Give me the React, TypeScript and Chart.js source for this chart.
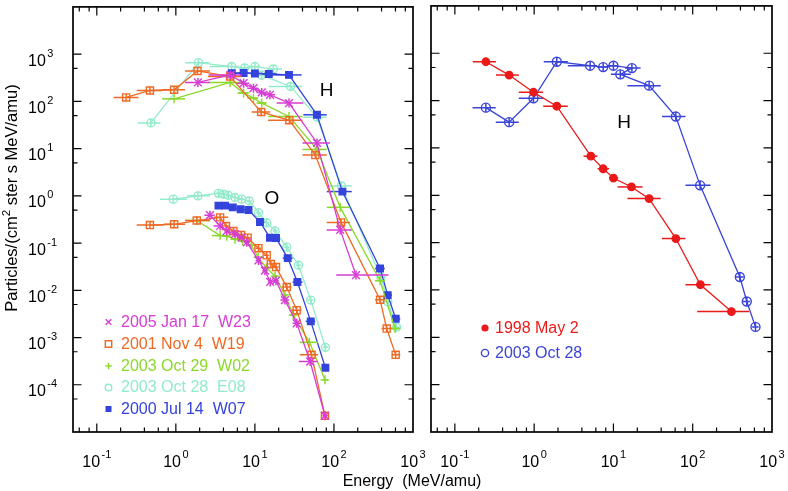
import React, { useEffect, useRef } from 'react';
import { Chart, registerables } from 'chart.js';

Chart.register(...registerables);

// ---------------- data ----------------
// Left panel, H (protons)
const jan17H_E = [1.9, 4.9, 7.2, 9.6, 12.2, 15.5, 27, 61, 120, 190];
const jan17H_F = [251, 363, 243, 190, 155, 138, 92, 13.2, 0.19, 0.021];
const jan17H_lo = [1.31, 2.6, 6.0, 8.0, 10.5, 13, 18.9, 40, 81, 107];
const jan17H_hi = [2.7, 6.8, 8.5, 11, 14, 18, 41, 89, 168, 490];

const nov4H_E = [0.235, 0.47, 0.95, 1.88, 4.86, 12.0, 27.3, 58.2, 123, 383, 465, 604];
const nov4H_F = [121, 170, 176, 440, 336, 59.6, 39.8, 7.3, 0.274, 0.0063, 0.00155, 0.00043];
const nov4H_lo = [0.163, 0.32, 0.67, 1.31, 2.56, 9.1, 14.7, 40, 81, 331, 400, 540];
const nov4H_hi = [0.336, 0.67, 1.31, 2.7, 6.8, 15.6, 40, 81, 160, 443, 540, 690];

const oct29H_E = [0.95, 4.86, 7.2, 9.6, 12.2, 27, 61, 120, 383, 592];
const oct29H_F = [113, 251, 150, 117, 92, 48, 9.6, 0.57, 0.016, 0.00155];
const oct29H_lo = [0.67, 2.6, 6.0, 8.0, 10.5, 14.7, 40, 81, 330, 540];
const oct29H_hi = [1.31, 6.8, 8.5, 11, 14, 40, 81, 160, 440, 690];

const jul14H_E = [5.1, 7.2, 10, 15, 27, 61, 128, 383, 479, 605];
const jul14H_F = [394, 400, 390, 380, 363, 52, 1.23, 0.029, 0.0079, 0.0025];
const jul14H_lo = [4.3, 6.0, 8.5, 12.5, 16, 41, 81, 330, 440, 540];
const jul14H_hi = [6.0, 8.5, 12.5, 19, 39, 81, 168, 440, 540, 690];

// 2003 Oct 28 H (both panels; left panel omits the 0.25 and 1 MeV points)
const oct28H_E = [0.246, 0.484, 0.98, 1.93, 5.08, 7.42, 10.0, 17.1, 12.2, 28.2, 61.2, 124, 393, 481, 619];
const oct28H_F = [71, 35, 112, 661, 546, 510, 546, 486, 358, 207, 46, 1.62, 0.0188, 0.0057, 0.00166];
const oct28H_lo = [0.167, 0.328, 0.64, 1.32, 2.66, 6.2, 8.5, 14, 9.3, 15, 41, 81, 350, 430, 560];
const oct28H_hi = [0.328, 0.64, 1.32, 2.66, 6.2, 8.5, 11.5, 22, 16.6, 39.5, 81, 168, 440, 530, 680];
const oct28H_leftSkip = [0, 2];

// Left panel, O (oxygen)
const oct28O_E = [0.93, 1.9, 3.46, 4.0, 4.6, 5.6, 6.8, 8.5, 11.1, 14.1, 18.0, 25.3, 35.5, 50.9, 77.9];
const oct28O_F = [0.85, 1.0, 1.13, 1.08, 1.03, 0.92, 0.85, 0.78, 0.44, 0.27, 0.18, 0.082, 0.034, 0.0062, 0.00062];
const oct28O_lo = [0.63, 1.38, 3.2, 3.75, 4.3, 5.2, 6.3, 7.9, 10.3, 13.1, 16.7, 23.5, 33, 46, 72];
const oct28O_hi = [1.38, 2.7, 3.75, 4.3, 5.0, 6.1, 7.3, 9.2, 12, 15.2, 19.4, 27.3, 38.2, 55, 84];

const jul14O_E = [3.46, 4.2, 5.25, 6.6, 8.3, 11.6, 15.5, 18.5, 26, 34.5, 50.9, 77.9];
const jul14O_F = [0.62, 0.62, 0.57, 0.52, 0.5, 0.28, 0.13, 0.128, 0.048, 0.015, 0.0022, 0.00023];
const jul14O_lo = [3.2, 3.9, 4.85, 6.1, 7.7, 10.3, 13.8, 17, 22.5, 30, 44, 72];
const jul14O_hi = [3.75, 4.55, 5.7, 7.1, 9.0, 13.2, 17.5, 20, 30, 40, 58, 84];

const nov4O_E = [0.47, 0.95, 1.84, 3.63, 4.3, 5.35, 6.7, 8.1, 11.1, 14.1, 15.9, 18.5, 25.3, 33.8, 52, 77];
const nov4O_F = [0.24, 0.25, 0.3, 0.35, 0.23, 0.18, 0.148, 0.13, 0.078, 0.055, 0.036, 0.031, 0.0117, 0.0038, 0.00043, 0.000022];
const nov4O_lo = [0.32, 0.7, 1.31, 3.0, 4.0, 5.0, 6.2, 7.5, 10.2, 13, 14.8, 17, 22, 29, 37, 72];
const nov4O_hi = [0.7, 1.31, 2.7, 4.6, 4.7, 5.8, 7.2, 8.8, 12, 15, 17, 20, 29, 39, 63, 83];

const jan17O_E = [2.7, 3.63, 4.4, 5.6, 6.8, 7.9, 11.1, 13.4, 15.6, 18.5, 24, 33.8, 50, 77];
const jan17O_F = [0.39, 0.23, 0.18, 0.155, 0.13, 0.104, 0.043, 0.026, 0.015, 0.016, 0.0062, 0.002, 0.00031, 0.000022];
const jan17O_lo = [2.3, 3.0, 4.1, 5.2, 6.3, 7.3, 10.2, 12.4, 14.6, 17, 21, 30, 36, 72];
const jan17O_hi = [3.1, 4.0, 4.8, 6.0, 7.3, 8.6, 12, 14.5, 16.7, 20, 27, 38, 62, 83];

const oct29O_E = [1.84, 3.63, 4.4, 5.6, 7.0, 9.0, 11.0, 14.0, 18.0, 24, 30.6, 49, 77];
const oct29O_F = [0.3, 0.144, 0.14, 0.12, 0.11, 0.09, 0.05, 0.03, 0.02, 0.008, 0.003, 0.00079, 0.000127];
const oct29O_lo = [1.31, 2.85, 4.1, 5.2, 6.5, 8.3, 10.2, 13, 16.7, 22, 28, 37, 72];
const oct29O_hi = [2.7, 4.6, 4.8, 6.0, 7.5, 9.7, 12, 15, 19.4, 26, 33, 63, 84];

// Right panel: 1998 May 2 H
const may2H_E = [0.246, 0.484, 0.98, 1.93, 5.19, 7.42, 10.0, 16.9, 28.2, 61.2, 125, 308];
const may2H_F = [661, 346, 150, 76, 6.7, 3.63, 2.31, 1.5, 0.85, 0.122, 0.0129, 0.0035];
const may2H_lo = [0.168, 0.33, 0.64, 1.3, 4.2, 6.3, 8.8, 11.3, 15, 41, 81, 114];
const may2H_hi = [0.33, 0.64, 1.3, 2.66, 6.3, 8.8, 11.5, 23.3, 39.5, 81, 168, 515];

// Legend labels
const leftLegendLabels = ['2005 Jan 17  W23', '2001 Nov 4  W19', '2003 Oct 29  W02', '2003 Oct 28  E08', '2000 Jul 14  W07'];
const rightLegendLabels = ['1998 May 2', '2003 Oct 28'];

// Axis
const X_MIN = 0.05;
const X_MAX = 1000;
const Y_MIN = 1e-5;
const Y_MAX = 1e4;
const X_LABEL_EXPS = [-1, 0, 1, 2, 3];
const Y_LABEL_EXPS = [3, 2, 1, 0, -1, -2, -3, -4];

// ---------------- styles ----------------
const FONT = '"Liberation Sans", Arial, Helvetica, sans-serif';
const C_MAG = '#d63cd4';
const C_ORA = '#ee6a24';
const C_GRN = '#8ad82a';
const C_CYA = '#92ebca';
const C_BLU = '#3343dc';
const C_RED = '#ea1a1a';
const C_RBLU = '#3a44d8';

type Style = { pointStyle: string; radius: number; filled: boolean; vBar: number };
const ST_MAG: Style = { pointStyle: 'crossRot', radius: 5.5, filled: false, vBar: 4.5 };
const ST_ORA: Style = { pointStyle: 'rect', radius: 5, filled: false, vBar: 3.5 };
const ST_GRN: Style = { pointStyle: 'cross', radius: 4.5, filled: false, vBar: 0 };
const ST_CYA: Style = { pointStyle: 'circle', radius: 4, filled: false, vBar: 4 };
const ST_BLU: Style = { pointStyle: 'rect', radius: 4.6, filled: true, vBar: 0 };
const ST_RED: Style = { pointStyle: 'circle', radius: 3.7, filled: true, vBar: 0 };
const ST_RBLU: Style = { pointStyle: 'circle', radius: 4.5, filled: false, vBar: 4.5 };

function series(E: number[], F: number[], lo: number[], hi: number[], color: string, st: Style): any {
  return {
    data: E.map((x, i) => ({ x, y: F[i] })),
    errLo: lo,
    errHi: hi,
    vBar: st.vBar,
    borderColor: color,
    backgroundColor: color,
    borderWidth: 1.3,
    showLine: true,
    fill: false,
    tension: 0,
    pointStyle: st.pointStyle,
    pointRadius: st.radius,
    pointHoverRadius: st.radius,
    pointBorderColor: color,
    pointBorderWidth: 1.4,
    pointBackgroundColor: st.filled ? color : 'rgba(0,0,0,0)',
  };
}

const skip = (a: number[]) => a.filter((_, i) => !oct28H_leftSkip.includes(i));

function minorTicks(mults: number[]): number[] {
  const out: number[] = [];
  for (let e = -6; e <= 4; e++) {
    for (const m of mults) {
      const v = m * Math.pow(10, e);
      if (v > X_MIN * 0.999 && v < X_MAX && mults.length > 1) out.push(v);
      if (mults.length === 1 && v > Y_MIN && v < 1e3 * 1.01) out.push(v);
    }
  }
  return out;
}
const X_MINOR = minorTicks([2, 4, 6, 8]);
const Y_MINOR = minorTicks([5]);

function drawPow(ctx: CanvasRenderingContext2D, n: number, x: number, y: number, center: boolean, color = '#000') {
  ctx.fillStyle = color;
  ctx.textAlign = 'left';
  ctx.textBaseline = 'alphabetic';
  ctx.font = `16px ${FONT}`;
  const w1 = ctx.measureText('10').width;
  ctx.font = `11px ${FONT}`;
  const ex = String(n);
  const w2 = ctx.measureText(ex).width;
  const total = w1 + 1.5 + w2;
  const x0 = center ? x - total / 2 : x;
  ctx.font = `16px ${FONT}`;
  ctx.fillText('10', x0, y);
  ctx.font = `11px ${FONT}`;
  ctx.fillText(ex, x0 + w1 + 1.5, y - 9);
}

function drawMarker(ctx: CanvasRenderingContext2D, kind: string, x: number, y: number, s: number, color: string) {
  ctx.save();
  ctx.strokeStyle = color;
  ctx.fillStyle = color;
  ctx.lineWidth = 1.4;
  ctx.beginPath();
  if (kind === 'x') {
    ctx.moveTo(x - s, y - s); ctx.lineTo(x + s, y + s);
    ctx.moveTo(x - s, y + s); ctx.lineTo(x + s, y - s);
    ctx.stroke();
  } else if (kind === 'plus') {
    ctx.moveTo(x - s, y); ctx.lineTo(x + s, y);
    ctx.moveTo(x, y - s); ctx.lineTo(x, y + s);
    ctx.stroke();
  } else if (kind === 'sq') {
    ctx.rect(x - s, y - s, 2 * s, 2 * s);
    ctx.stroke();
  } else if (kind === 'fsq') {
    ctx.rect(x - s, y - s, 2 * s, 2 * s);
    ctx.fill();
  } else if (kind === 'circ') {
    ctx.arc(x, y, s, 0, Math.PI * 2);
    ctx.stroke();
  } else if (kind === 'fcirc') {
    ctx.arc(x, y, s, 0, Math.PI * 2);
    ctx.fill();
  }
  ctx.restore();
}

type Note = { text: string; x: number; y: number };
type LegendItem = { kind: string; size: number; color: string; text: string };
type PanelCfg = {
  yLabels: boolean;
  titles: boolean;
  legend: LegendItem[];
  legendMarkerX: number;
  legendTextX: number;
  legendRows: number[];
  notes: Note[];
};

function makePlugin(cfg: PanelCfg): any {
  return {
    id: 'panelDeco',
    beforeDatasetDraw(chart: any, args: any) {
      const ds = chart.data.datasets[args.index];
      if (!ds || !ds.errLo) return;
      const ctx: CanvasRenderingContext2D = chart.ctx;
      const xs = chart.scales.x;
      const ys = chart.scales.y;
      const a = chart.chartArea;
      ctx.save();
      ctx.beginPath();
      ctx.rect(a.left, a.top, a.right - a.left, a.bottom - a.top);
      ctx.clip();
      ctx.strokeStyle = ds.borderColor;
      ctx.lineWidth = 1.5;
      ds.data.forEach((p: any, i: number) => {
        const x = xs.getPixelForValue(p.x);
        const y = ys.getPixelForValue(p.y);
        ctx.beginPath();
        ctx.moveTo(xs.getPixelForValue(ds.errLo[i]), y);
        ctx.lineTo(xs.getPixelForValue(ds.errHi[i]), y);
        if (ds.vBar) {
          ctx.moveTo(x, y - ds.vBar);
          ctx.lineTo(x, y + ds.vBar);
        }
        ctx.stroke();
      });
      ctx.restore();
    },
    afterDraw(chart: any) {
      const ctx: CanvasRenderingContext2D = chart.ctx;
      const xs = chart.scales.x;
      const ys = chart.scales.y;
      const { left, right, top, bottom } = chart.chartArea;
      ctx.save();
      // ticks
      ctx.strokeStyle = '#000';
      ctx.lineWidth = 1.2;
      ctx.beginPath();
      const xTick = (v: number, len: number) => {
        const x = xs.getPixelForValue(v);
        if (x <= left + 1 || x >= right - 1) return;
        ctx.moveTo(x, bottom); ctx.lineTo(x, bottom - len);
        ctx.moveTo(x, top); ctx.lineTo(x, top + len);
      };
      const yTick = (v: number, len: number) => {
        const y = ys.getPixelForValue(v);
        if (y <= top + 1 || y >= bottom - 1) return;
        ctx.moveTo(left, y); ctx.lineTo(left + len, y);
        ctx.moveTo(right, y); ctx.lineTo(right - len, y);
      };
      X_LABEL_EXPS.forEach((n) => xTick(Math.pow(10, n), 8.5));
      X_MINOR.forEach((v) => xTick(v, 4.5));
      Y_LABEL_EXPS.forEach((n) => yTick(Math.pow(10, n), 8.5));
      Y_MINOR.forEach((v) => yTick(v, 4.5));
      ctx.stroke();
      // frame
      ctx.lineWidth = 1.7;
      ctx.strokeRect(left, top, right - left, bottom - top);

      // x tick labels
      X_LABEL_EXPS.forEach((n) => {
        drawPow(ctx, n, xs.getPixelForValue(Math.pow(10, n)), bottom + 35, true);
      });
      if (cfg.yLabels) {
        Y_LABEL_EXPS.forEach((n) => {
          drawPow(ctx, n, 28, ys.getPixelForValue(Math.pow(10, n)) + 11.5, false);
        });
      }
      if (cfg.titles) {
        ctx.fillStyle = '#000';
        ctx.font = `16px ${FONT}`;
        ctx.textAlign = 'center';
        ctx.textBaseline = 'alphabetic';
        ctx.fillText('Energy  (MeV/amu)', 412, 486);
        // y title
        ctx.save();
        ctx.translate(16.5, 198);
        ctx.rotate(-Math.PI / 2);
        const p1 = 'Particles/(cm';
        const p2 = '2';
        const p3 = ' ster s MeV/amu)';
        ctx.font = `16.5px ${FONT}`;
        const w1 = ctx.measureText(p1).width;
        const w3 = ctx.measureText(p3).width;
        ctx.font = `11.5px ${FONT}`;
        const w2 = ctx.measureText(p2).width;
        const tot = w1 + w2 + w3;
        ctx.textAlign = 'left';
        let xx = -tot / 2;
        ctx.font = `16.5px ${FONT}`;
        ctx.fillText(p1, xx, 0);
        xx += w1;
        ctx.font = `11.5px ${FONT}`;
        ctx.fillText(p2, xx, -7);
        xx += w2;
        ctx.font = `16.5px ${FONT}`;
        ctx.fillText(p3, xx, 0);
        ctx.restore();
      }
      // notes (H, O)
      ctx.fillStyle = '#000';
      ctx.font = `19px ${FONT}`;
      ctx.textAlign = 'center';
      ctx.textBaseline = 'middle';
      cfg.notes.forEach((n) => {
        ctx.fillText(n.text, xs.getPixelForValue(n.x), ys.getPixelForValue(n.y));
      });
      // legend
      ctx.font = `16px ${FONT}`;
      ctx.textAlign = 'left';
      ctx.textBaseline = 'middle';
      cfg.legend.forEach((it, i) => {
        const y = cfg.legendRows[i];
        drawMarker(ctx, it.kind, cfg.legendMarkerX, y, it.size, it.color);
        ctx.fillStyle = it.color;
        ctx.fillText(it.text, cfg.legendTextX, y + 0.5);
      });
      ctx.restore();
    },
  };
}

function makeConfig(datasets: any[], padding: any, plugin: any): any {
  return {
    type: 'line',
    data: { datasets },
    options: {
      animation: false,
      responsive: false,
      devicePixelRatio: 1,
      events: [],
      layout: { padding },
      scales: {
        x: { type: 'logarithmic', min: X_MIN, max: X_MAX, display: false, bounds: 'data' },
        y: { type: 'logarithmic', min: Y_MIN, max: Y_MAX, display: false, bounds: 'data' },
      },
      plugins: { legend: { display: false }, tooltip: { enabled: false } },
    },
    plugins: [plugin],
  };
}

export default function App() {
  const leftRef = useRef<HTMLCanvasElement>(null);
  const rightRef = useRef<HTMLCanvasElement>(null);

  useEffect(() => {
    const leftSets = [
      series(jan17H_E, jan17H_F, jan17H_lo, jan17H_hi, C_MAG, ST_MAG),
      series(jan17O_E, jan17O_F, jan17O_lo, jan17O_hi, C_MAG, ST_MAG),
      series(nov4H_E, nov4H_F, nov4H_lo, nov4H_hi, C_ORA, ST_ORA),
      series(nov4O_E, nov4O_F, nov4O_lo, nov4O_hi, C_ORA, ST_ORA),
      series(oct29H_E, oct29H_F, oct29H_lo, oct29H_hi, C_GRN, ST_GRN),
      series(oct29O_E, oct29O_F, oct29O_lo, oct29O_hi, C_GRN, ST_GRN),
      series(jul14H_E, jul14H_F, jul14H_lo, jul14H_hi, C_BLU, ST_BLU),
      series(jul14O_E, jul14O_F, jul14O_lo, jul14O_hi, C_BLU, ST_BLU),
      series(skip(oct28H_E), skip(oct28H_F), skip(oct28H_lo), skip(oct28H_hi), C_CYA, ST_CYA),
      series(oct28O_E, oct28O_F, oct28O_lo, oct28O_hi, C_CYA, ST_CYA),
    ];
    const rightSets = [
      series(may2H_E, may2H_F, may2H_lo, may2H_hi, C_RED, ST_RED),
      series(oct28H_E, oct28H_F, oct28H_lo, oct28H_hi, C_RBLU, ST_RBLU),
    ];
    const leftPlugin = makePlugin({
      yLabels: true,
      titles: true,
      legend: [
        { kind: 'x', size: 2.8, color: C_MAG, text: leftLegendLabels[0] },
        { kind: 'sq', size: 3.2, color: C_ORA, text: leftLegendLabels[1] },
        { kind: 'plus', size: 3.2, color: C_GRN, text: leftLegendLabels[2] },
        { kind: 'circ', size: 3.3, color: C_CYA, text: leftLegendLabels[3] },
        { kind: 'fsq', size: 3.0, color: C_BLU, text: leftLegendLabels[4] },
      ],
      legendMarkerX: 108.5,
      legendTextX: 121,
      legendRows: [322, 344, 366, 387.5, 409],
      notes: [
        { text: 'H', x: 81, y: 170 },
        { text: 'O', x: 16.4, y: 0.85 },
      ],
    });
    const rightPlugin = makePlugin({
      yLabels: false,
      titles: false,
      legend: [
        { kind: 'fcirc', size: 3.6, color: C_RED, text: rightLegendLabels[0] },
        { kind: 'circ', size: 3.6, color: C_RBLU, text: rightLegendLabels[1] },
      ],
      legendMarkerX: 485,
      legendTextX: 495,
      legendRows: [328, 353],
      notes: [{ text: 'H', x: 13.6, y: 34 }],
    });
    const left = new Chart(leftRef.current as HTMLCanvasElement, makeConfig(leftSets, { left: 73, right: 375, top: 4, bottom: 59 }, leftPlugin));
    const right = new Chart(rightRef.current as HTMLCanvasElement, makeConfig(rightSets, { left: 431, right: 16, top: 4, bottom: 59 }, rightPlugin));
    return () => {
      left.destroy();
      right.destroy();
    };
  }, []);

  return (
    <div style={{ position: 'absolute', left: 0, top: 0, width: 788, height: 491, background: '#fff' }}>
      <canvas ref={leftRef} width={788} height={491} style={{ position: 'absolute', left: 0, top: 0 }} />
      <canvas ref={rightRef} width={788} height={491} style={{ position: 'absolute', left: 0, top: 0 }} />
    </div>
  );
}
